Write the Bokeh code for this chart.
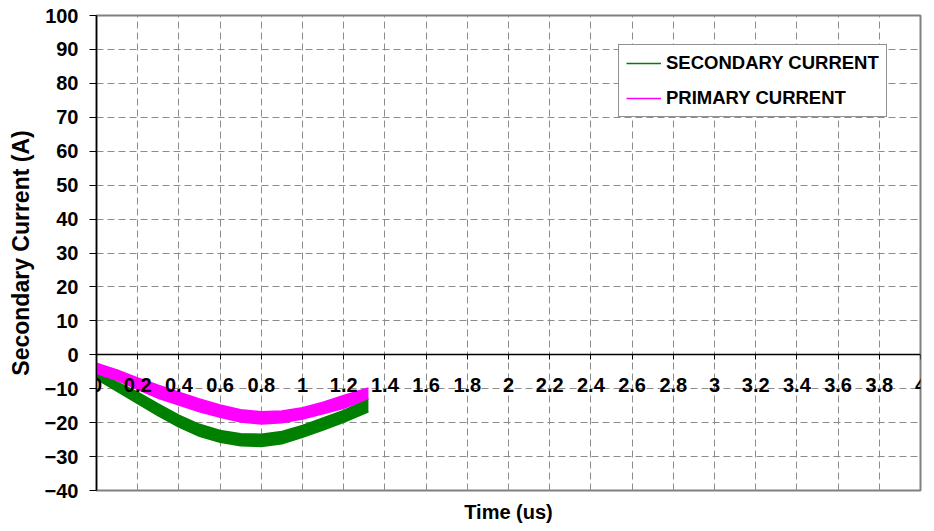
from bokeh.plotting import figure
from bokeh.models import Range1d, FixedTicker, Title, Legend, LegendItem
from bokeh.embed import file_html
from bokeh.resources import INLINE

# Sample times (us) along the captured waveforms
time_us = [0.0, 0.1, 0.2, 0.3, 0.4, 0.5, 0.6, 0.7, 0.8, 0.9, 1.0, 1.1, 1.2, 1.32]

# Envelope (upper / lower) of the noisy secondary current trace, A
secondary_hi = [-5.0, -8.0, -11.0, -14.5, -17.8, -20.5, -22.3, -23.3, -23.4, -22.6, -20.8, -18.6, -16.4, -13.0]
secondary_lo = [-7.2, -10.8, -14.4, -18.0, -21.3, -24.0, -25.8, -26.8, -27.0, -26.2, -24.3, -22.2, -19.9, -16.8]

# Envelope (upper / lower) of the noisy primary current trace, A
primary_hi = [-2.5, -4.5, -6.8, -9.0, -11.0, -13.0, -14.8, -16.2, -16.8, -16.6, -15.6, -14.0, -12.0, -9.8]
primary_lo = [-5.5, -7.5, -10.2, -12.8, -14.8, -16.8, -18.4, -19.8, -20.4, -20.0, -18.9, -17.4, -15.8, -12.8]

series_names = ["SECONDARY CURRENT", "PRIMARY CURRENT"]

x_ticks = [0.0, 0.2, 0.4, 0.6, 0.8, 1.0, 1.2, 1.4, 1.6, 1.8, 2.0,
           2.2, 2.4, 2.6, 2.8, 3.0, 3.2, 3.4, 3.6, 3.8, 4.0]
x_tick_labels = ["0", "0.2", "0.4", "0.6", "0.8", "1", "1.2", "1.4", "1.6", "1.8", "2",
                 "2.2", "2.4", "2.6", "2.8", "3", "3.2", "3.4", "3.6", "3.8", "4"]
y_ticks = [-40, -30, -20, -10, 0, 10, 20, 30, 40, 50, 60, 70, 80, 90, 100]

FONT = "Liberation Sans"
GREEN = "#008000"
MAGENTA = "#FF00FF"

p = figure(width=934, height=531,
           x_range=Range1d(0, 4), y_range=Range1d(-40, 100),
           output_backend="svg", toolbar_location=None,
           min_border_left=96, min_border_right=14,
           min_border_top=15, min_border_bottom=41,
           background_fill_color="white", border_fill_color=None)

p.outline_line_color = "#808080"
p.outline_line_width = 2

# grid
for g, ticks in ((p.xgrid, x_ticks), (p.ygrid, y_ticks)):
    g.ticker = FixedTicker(ticks=ticks)
    g.grid_line_color = "#8c8c8c"
    g.grid_line_dash = "7 4"
    g.grid_line_width = 1

# y axis
ya = p.yaxis[0]
ya.ticker = FixedTicker(ticks=y_ticks)
ya.axis_line_color = "black"
ya.axis_line_width = 1.5
ya.major_tick_line_color = "black"
ya.major_tick_out = 7
ya.major_tick_in = 0
ya.minor_tick_line_color = None
ya.major_label_standoff = 11
ya.major_label_text_font = FONT
ya.major_label_text_font_style = "bold"
ya.major_label_text_font_size = "20px"
ya.major_label_text_color = "black"
ya.axis_label = "Secondary Current (A)"
ya.axis_label_text_font = FONT
ya.axis_label_text_font_style = "bold"
ya.axis_label_text_font_size = "23px"
ya.axis_label_text_color = "black"
ya.axis_label_standoff = 8

# x axis crossing at zero current
xa = p.xaxis[0]
xa.fixed_location = 0
xa.ticker = FixedTicker(ticks=x_ticks)
xa.major_label_overrides = {t: lab for t, lab in zip(x_ticks, x_tick_labels)}
xa.axis_line_color = "black"
xa.axis_line_width = 1.5
xa.major_tick_line_color = "black"
xa.major_tick_out = 5
xa.major_tick_in = 0
xa.minor_tick_line_color = None
xa.major_label_standoff = 18
xa.major_label_text_font = FONT
xa.major_label_text_font_style = "bold"
xa.major_label_text_font_size = "20px"
xa.major_label_text_color = "black"

# traces
p.varea(x=time_us, y1=secondary_lo, y2=secondary_hi, fill_color=GREEN)
sec_hi = p.line(time_us, secondary_hi, line_color=GREEN, line_width=1.5)
p.line(time_us, secondary_lo, line_color=GREEN, line_width=1.5)

p.varea(x=time_us, y1=primary_lo, y2=primary_hi, fill_color=MAGENTA)
pri_hi = p.line(time_us, primary_hi, line_color=MAGENTA, line_width=1.5)
p.line(time_us, primary_lo, line_color=MAGENTA, line_width=1.5)

legend = Legend(items=[LegendItem(label=series_names[0], renderers=[sec_hi]),
                       LegendItem(label=series_names[1], renderers=[pri_hi])],
                location=(522, 373), margin=0, padding=7, spacing=13,
                glyph_width=35, glyph_height=20, label_height=20, label_standoff=5,
                label_text_font=FONT, label_text_font_style="bold",
                label_text_font_size="18.5px", label_text_color="black",
                border_line_color="#222222", border_line_width=1.5,
                background_fill_color="white", background_fill_alpha=1)
p.add_layout(legend)

p.add_layout(Title(text="Time (us)", align="center", standoff=17,
                   text_font=FONT, text_font_style="bold", text_font_size="20px",
                   text_color="black"), "below")

open("out.html", "w").write(file_html(p, INLINE))
